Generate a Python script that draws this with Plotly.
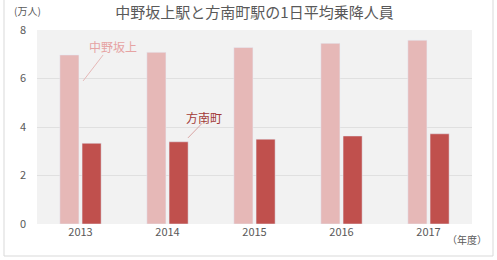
import plotly.graph_objects as go

years = ["2013", "2014", "2015", "2016", "2017"]
nakano = [6.97, 7.08, 7.28, 7.45, 7.58]
honan = [3.33, 3.39, 3.50, 3.63, 3.72]
yticks = [0, 2, 4, 6, 8]

FONT = "Noto Sans CJK JP"
GRAY = "#595959"

fig = go.Figure()
fig.add_trace(go.Bar(x=years, y=nakano, name="中野坂上", marker_color="#E6B8B7"))
fig.add_trace(go.Bar(x=years, y=honan, name="方南町", marker_color="#C0504D"))

fig.update_layout(
    width=497, height=260,
    margin=dict(l=37, r=25, t=30, b=36),
    paper_bgcolor="white",
    plot_bgcolor="#F2F2F2",
    barmode="group",
    bargap=0.49,
    bargroupgap=0.14,
    showlegend=False,
    font=dict(family=FONT, color=GRAY, size=11),
    title=dict(text="中野坂上駅と方南町駅の1日平均乗降人員", x=0.5, xref="paper",
               xanchor="center", y=1 - 12.5 / 260, yanchor="middle",
               font=dict(size=15, color=GRAY, family=FONT)),
    xaxis=dict(showgrid=False, ticks="", showline=False, tickfont=dict(size=11, color=GRAY)),
    yaxis=dict(range=[0, 8], tickvals=yticks, showgrid=True, gridcolor="#E0E0E0",
               gridwidth=1, zeroline=False, ticks="", showline=False,
               tickfont=dict(size=11, color=GRAY), ticklabelstandoff=10),
)

# outer border
fig.add_shape(type="rect", xref="paper", yref="paper",
              x0=(4 - 37) / 435, x1=(493 - 37) / 435,
              y0=(224 - 256) / 194, y1=(224 + 2) / 194,
              line=dict(color="#D9D9D9", width=1), layer="below")

fig.add_annotation(text="(万人)", xref="paper", yref="paper",
                   x=(27 - 37) / 435, y=(224 - 11) / 194, showarrow=False,
                   xanchor="center", yanchor="middle",
                   font=dict(size=10, color=GRAY, family=FONT))
fig.add_annotation(text="（年度）", xref="paper", yref="paper",
                   x=(467 - 37) / 435, y=(224 - 239) / 194, showarrow=False,
                   xanchor="center", yanchor="middle",
                   font=dict(size=10, color=GRAY, family=FONT))

# series labels with leader lines
fig.add_shape(type="line", xref="x", yref="y", x0=0.03, y0=5.9, x1=0.26, y1=6.97,
              line=dict(color="#E6B8B7", width=1))
fig.add_annotation(text="中野坂上", x=0.37, y=7.3, xref="x", yref="y", showarrow=False,
                   xanchor="center", yanchor="middle",
                   font=dict(size=12, color="#E6A3A3", family=FONT))
fig.add_shape(type="line", xref="x", yref="y", x0=1.235, y0=3.55, x1=1.40, y1=4.16,
              line=dict(color="#D9A5A4", width=1))
fig.add_annotation(text="方南町", x=1.42, y=4.4, xref="x", yref="y", showarrow=False,
                   xanchor="center", yanchor="middle",
                   font=dict(size=12, color="#A33A37", family=FONT))

fig.write_html("out.html")
